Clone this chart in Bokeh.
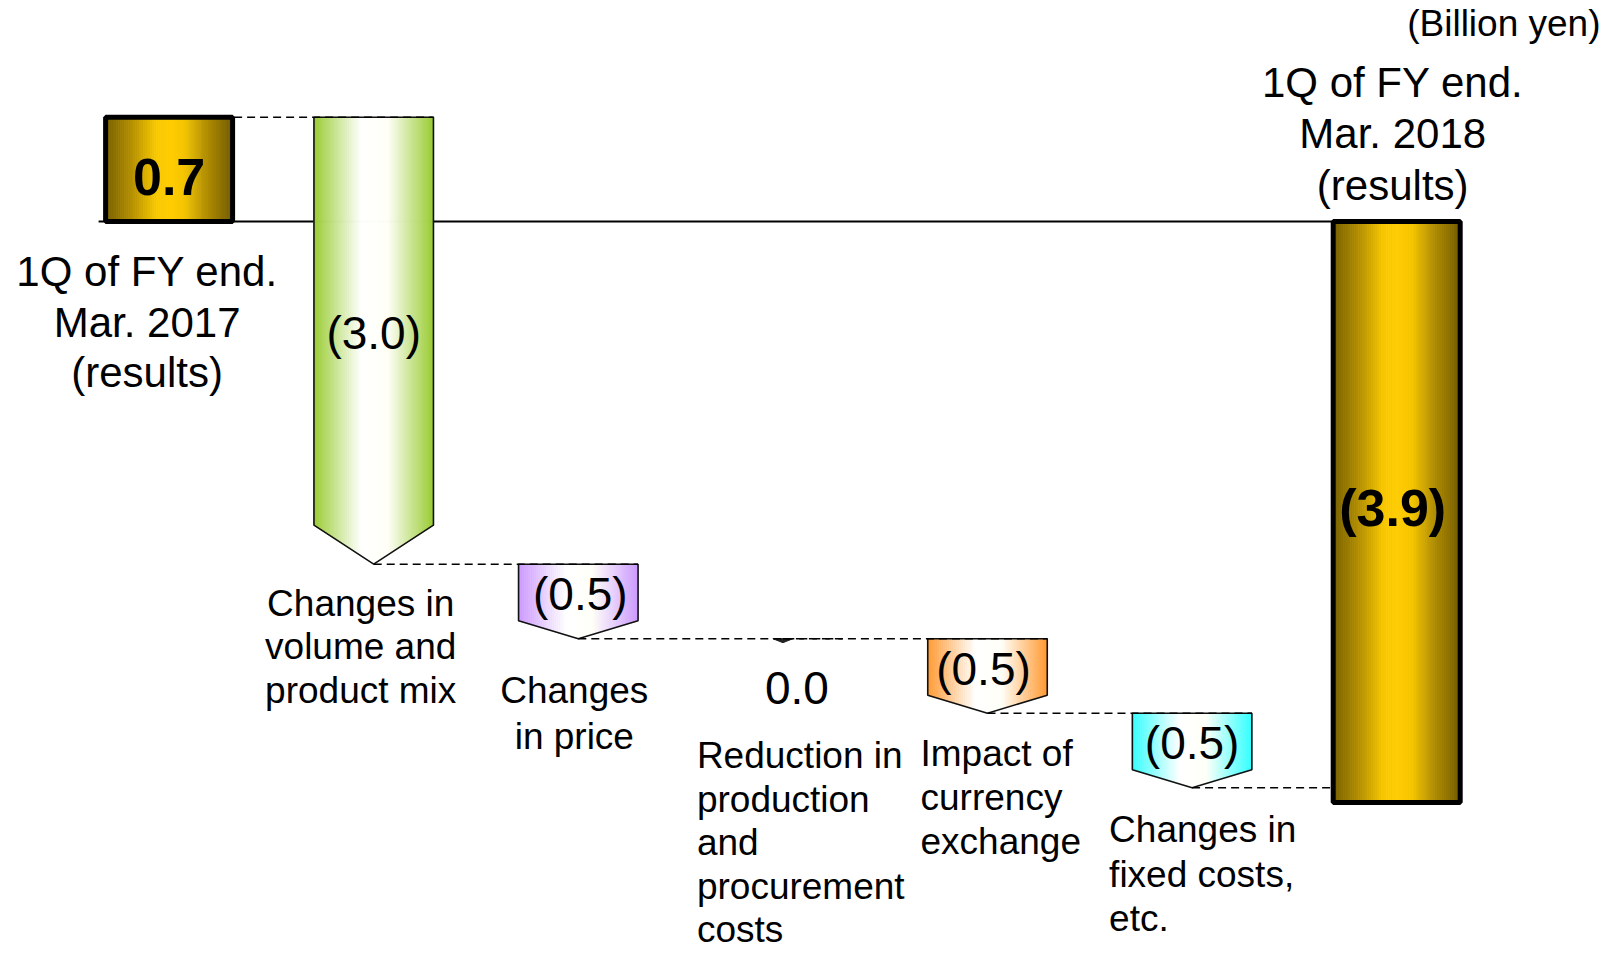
from bokeh.plotting import figure
from bokeh.models import Range1d, ColumnDataSource, Label
from bokeh.core.properties import value
from bokeh.embed import file_html
from bokeh.resources import INLINE

# ---------------- data ----------------
categories = [
    "1Q of FY end.\nMar. 2017\n(results)",
    "Changes in\nvolume and\nproduct mix",
    "Changes\nin price",
    "Reduction in\nproduction\nand\nprocurement\ncosts",
    "Impact of\ncurrency\nexchange",
    "Changes in\nfixed costs,\netc.",
    "1Q of FY end.\nMar. 2018\n(results)",
]
kinds = ["total", "step", "step", "step", "step", "step", "total"]
values = [0.7, -3.0, -0.5, 0.0, -0.5, -0.5, -3.9]
unit_note = "(Billion yen)"

# ---------------- layout / style ----------------
W, H = 1616, 957
SX, SY = 204.6, 149.0          # pixels per unit on x / y
X0_PX = 168.6                  # canvas px of first category centre
ZERO_PX = 221                  # canvas px of the zero level
x_start = -X0_PX / SX
x_end = x_start + W / SX
y_end = ZERO_PX / SY
y_start = y_end - H / SY

FONT_NAME = "Liberation Sans"
FONT = value(FONT_NAME)
GOLD = [(0.0, "#776000"), (0.22, "#b89300"), (0.4, "#f8c800"), (0.5, "#ffcc00"),
        (0.62, "#f5c600"), (0.8, "#b08c00"), (1.0, "#735c00")]
edge_colors = [None, "#99cc33", "#cc99ff", None, "#ff9933", "#33ffff", None]


def arrow_stops(c):
    return [(0.0, c), (0.4, "#ffffff"), (0.62, "#fffff8"), (1.0, c)]


def hex2rgb(h):
    h = h.lstrip("#")
    return tuple(int(h[i:i + 2], 16) for i in (0, 2, 4))


def interp(stops, t):
    for (t0, c0), (t1, c1) in zip(stops[:-1], stops[1:]):
        if t0 <= t <= t1:
            f = 0 if t1 == t0 else (t - t0) / (t1 - t0)
            a, b = hex2rgb(c0), hex2rgb(c1)
            r = [round(a[j] + (b[j] - a[j]) * f) for j in range(3)]
            return "#%02x%02x%02x" % tuple(r)
    return stops[-1][1]


def px_x(n):
    return n / SX


def px_y(n):
    return n / SY


p = figure(width=W, height=H, output_backend="svg", toolbar_location=None,
           x_range=Range1d(x_start, x_end), y_range=Range1d(y_start, y_end),
           x_axis_location=None, y_axis_location=None, min_border=0,
           background_fill_color="white", border_fill_color="white")
p.outline_line_color = None
p.xgrid.visible = False
p.ygrid.visible = False

xs_pos = list(range(len(categories)))
HT = px_x(63.5)     # half width of total bars
HA = px_x(59.75)    # half width of arrows

# cumulative geometry
starts, ends = [], []
level = 0.0
for idx, (k, v) in enumerate(zip(kinds, values)):
    if k == "total":
        starts.append(0.0)
        ends.append(v)
        if idx == 0:
            level = v
    else:
        starts.append(level)
        level = level + v
        ends.append(level)

# zero line (behind bars)
p.segment(x0=[xs_pos[0] - HT - px_x(7)], y0=[0], x1=[xs_pos[-1] + HT], y1=[0],
          line_color="black", line_width=2)

N = 60
sx_, sy_, sc_ = [], [], []
out_xs, out_ys = [], []
tot_l, tot_r, tot_t, tot_b = [], [], [], []
for i, (k, v) in enumerate(zip(kinds, values)):
    c = xs_pos[i]
    top, end = starts[i], ends[i]
    if k == "total":
        h = HT
        stops = GOLD
        hi, lo = max(top, end), min(top, end)
        bottom = lambda x, lo=lo: lo
        top_ = hi
        tot_l.append(c - h); tot_r.append(c + h); tot_t.append(hi); tot_b.append(lo)
    else:
        if v == 0:
            continue
        h = HA
        stops = arrow_stops(edge_colors[i])
        head = px_y(39 if abs(v) >= 1 else 18)
        bottom = lambda x, c=c, h=h, end=end, head=head: end + head * abs(x - c) / h
        top_ = top
        out_xs.append([c - h, c + h, c + h, c, c - h])
        out_ys.append([top, top, end + head, end, end + head])
    for s in range(N):
        x0 = c - h + 2 * h * s / N
        x1 = c - h + 2 * h * (s + 1) / N
        sx_.append([x0, x1, x1, x0])
        sy_.append([top_, top_, bottom(x1), bottom(x0)])
        sc_.append(interp(stops, (s + 0.5) / N))

p.patches(xs=sx_, ys=sy_, fill_color=sc_, line_color=sc_, line_width=0.8)
p.patches(xs=out_xs, ys=out_ys, fill_color=None, line_color="#111111", line_width=1.6)
p.quad(left=tot_l, right=tot_r, top=tot_t, bottom=tot_b, fill_color=None,
       line_color="black", line_width=5)

# zero-value marker (tiny arrow)
for i, (k, v) in enumerate(zip(kinds, values)):
    if k == "step" and v == 0:
        c, L = xs_pos[i], ends[i]
        p.patch(x=[c - px_x(10), c + px_x(10), c], y=[L, L, L - px_y(4)],
                fill_color="#222222", line_color="#222222", line_width=1)

# dashed connectors
cx0, cy0, cx1, cy1 = [], [], [], []
for i in range(len(categories) - 1):
    lvl = ends[i]
    nxt = i + 1
    if kinds[nxt] == "step":
        xe = xs_pos[nxt] + HA
    else:
        xe = xs_pos[nxt] - HT
    cx0.append(xs_pos[i]); cy0.append(lvl); cx1.append(xe); cy1.append(lvl)
p.segment(x0=cx0, y0=cy0, x1=cx1, y1=cy1, line_color="#000000", line_width=1.6,
          line_dash="8 5")


def fmt(v):
    return "(%.1f)" % abs(v) if v < 0 else "%.1f" % v


# value labels
val_dy = [8, 12, 2, 49, 2, 2, -4]
val_dx = [0, 0, 2, 14, -4, 0, -4]
for i, (k, v) in enumerate(zip(kinds, values)):
    c = xs_pos[i] + px_x(val_dx[i])
    if k == "total":
        y = (starts[i] + ends[i]) / 2
        bold = True
    elif v == 0:
        y = ends[i]
        bold = False
    else:
        head = px_y(39 if abs(v) >= 1 else 18)
        y = (starts[i] + ends[i] + head) / 2
        bold = False
    y -= px_y(val_dy[i])
    p.text(x=[c], y=[y], text=[fmt(v)], text_font=FONT,
           text_font_size="52px" if bold else "46px",
           text_font_style="bold" if bold else "normal",
           text_align="center", text_baseline="middle", text_color="black")

# category labels: (anchor, dx px, first-line offset px, spacing px, align, size)
cat_layout = [
    ("zero", -22, 50, 50.5, "center", "42px"),
    ("end", -13, 39, 43.5, "center", "37px"),
    ("end", -4, 52, 45.5, "center", "37px"),
    ("end", -86, 117, 43.5, "left", "37px"),
    ("end", -67, 40, 44.2, "left", "37px"),
    ("end", -83, 42, 44.5, "left", "37px"),
    ("zero", -4, -139, 51.3, "center", "42px"),
]
for i, label in enumerate(categories):
    anchor, dx, first, sp, align, size = cat_layout[i]
    base = 0.0 if anchor == "zero" else ends[i]
    lines = label.split("\n")
    src = ColumnDataSource(dict(
        x=[xs_pos[i] + px_x(dx)] * len(lines),
        y=[base - px_y(first + j * sp) for j in range(len(lines))],
        t=lines))
    p.text(x="x", y="y", text="t", source=src, text_font=FONT, text_font_size=size,
           text_align=align, text_baseline="middle", text_color="black")

p.add_layout(Label(x=1600, y=H - 23, x_units="screen", y_units="screen",
                   text=unit_note, text_font=FONT_NAME, text_font_size="37px",
                   text_align="right", text_baseline="middle", text_color="black"))

open("out.html", "w").write(file_html(p, INLINE))
